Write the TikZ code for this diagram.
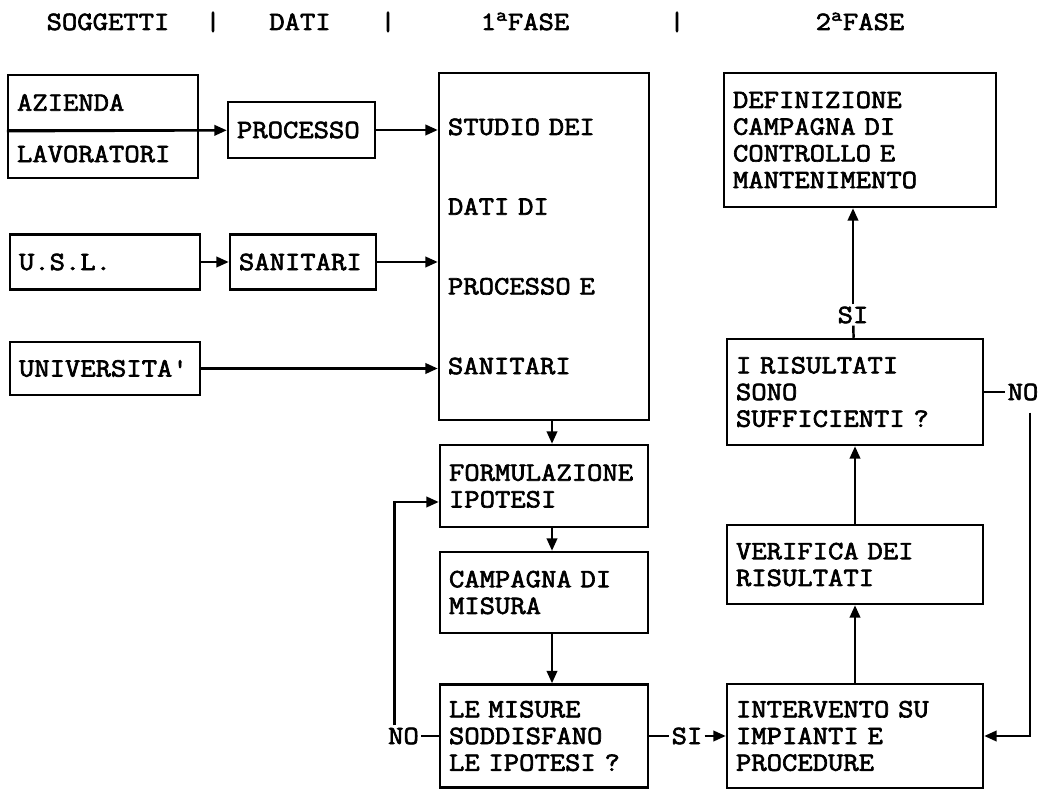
\documentclass[tikz,border=0pt]{standalone}
\usepackage{fontspec}
\setmonofont{Latin Modern Mono}[FakeStretch=1.13,FakeBold=2.5]
\usepackage{tikz}
\usetikzlibrary{arrows.meta}

\begin{document}
\begin{tikzpicture}[
  box/.style={draw,line width=1.4pt,align=left,inner xsep=0.18cm,inner ysep=0pt,font={\ttfamily\fontsize{15}{15.2}\selectfont}},
  head/.style={anchor=base,inner sep=0pt,font={\ttfamily\fontsize{15}{15.2}\selectfont}},
  lbl/.style={inner sep=0.04cm,font={\ttfamily\fontsize{15}{15.2}\selectfont}},
  arrow/.style={-{Triangle[length=0.25cm,width=0.21cm]},line width=1.4pt}
]
\useasboundingbox (0,0) rectangle (20.96,15.82);
% intestazione
\node[head] (hsog) at (2.16,15.22) {SOGGETTI};
\node[head] (hbar1) at (4.26,15.22) {|};
\node[head] (hdati) at (6.0,15.22) {DATI};
\node[head] (hbar2) at (7.76,15.22) {|};
\node[head] (hfase1) at (10.5,15.22) {1\textsuperscript{a}FASE};
\node[head] (hbar3) at (13.54,15.22) {|};
\node[head] (hfase2) at (17.2,15.22) {2\textsuperscript{a}FASE};
% soggetti e dati
\node[box,text width=3.44cm,minimum height=1.1cm] (azienda) at (2.06,13.77) {AZIENDA};
\node[box,text width=3.44cm,minimum height=0.96cm] (lavoratori) at (2.06,12.74) {LAVORATORI};
\node[box,text width=2.58cm,minimum height=1.12cm] (processo) at (6.03,13.22) {PROCESSO};
\node[box,text width=3.44cm,minimum height=1.1cm] (usl) at (2.1,10.58) {U.S.L.};
\node[box,text width=2.56cm,minimum height=1.1cm] (sanitari) at (6.06,10.58) {SANITARI};
\node[box,text width=3.44cm,minimum height=1.06cm] (universita) at (2.1,8.45) {UNIVERSITA'};
% 1a fase
\node[box,text width=3.84cm,minimum height=6.94cm] (studio) at (10.88,10.89) {STUDIO DEI\\[1.06cm]DATI DI\\[1.06cm]PROCESSO E\\[1.06cm]SANITARI};
\node[box,text width=3.8cm,minimum height=1.64cm] (formulazione) at (10.88,6.1) {FORMULAZIONE\\IPOTESI};
\node[box,text width=3.8cm,minimum height=1.62cm] (campagna) at (10.88,3.97) {CAMPAGNA DI\\MISURA};
\node[box,text width=3.8cm,minimum height=2.06cm] (misure) at (10.88,1.1) {LE MISURE\\SODDISFANO\\LE IPOTESI ?};
\node[lbl] (nomis) at (8.07,1.1) {NO};
\node[lbl] (sim) at (13.74,1.1) {SI};
% 2a fase
\node[box,text width=5.08cm,minimum height=2.68cm] (definizione) at (17.2,13.02) {DEFINIZIONE\\CAMPAGNA DI\\CONTROLLO E\\MANTENIMENTO};
\node[box,text width=4.76cm,minimum height=2.12cm] (risultati) at (17.1,7.98) {I RISULTATI\\SONO\\SUFFICIENTI ?};
\node[box,text width=4.76cm,minimum height=1.58cm] (verifica) at (17.1,4.53) {VERIFICA DEI\\RISULTATI};
\node[box,text width=4.76cm,minimum height=2.08cm] (intervento) at (17.1,1.1) {INTERVENTO SU\\IMPIANTI E\\PROCEDURE};
\node[lbl] (sir) at (17.06,9.52) {SI};
\node[lbl] (nor) at (20.46,7.98) {NO};
% collegamenti
\draw[arrow] (azienda.south west) -- (processo);
\draw[arrow] (processo) -- (processo -| studio.west);
\draw[arrow] (usl) -- (sanitari);
\draw[arrow] (sanitari) -- (sanitari -| studio.west);
\draw[arrow] (universita) -- (universita -| studio.west);
\draw[arrow] ([xshift=0.16cm]studio.south) -- ([xshift=0.16cm]formulazione.north);
\draw[arrow] ([xshift=0.16cm]formulazione.south) -- ([xshift=0.16cm]campagna.north);
\draw[arrow] ([xshift=0.16cm]campagna.south) -- ([xshift=0.16cm]misure.north);
\draw[line width=1.4pt] (misure) -- (nomis);
\draw[arrow] ([xshift=-0.18cm]nomis.north) |- ([yshift=-0.32cm]formulazione.west);
\draw[line width=1.4pt] (misure) -- (sim);
\draw[arrow] (sim) -- (intervento);
\draw[arrow] (intervento) -- (verifica);
\draw[arrow] (verifica) -- (risultati);
\draw[line width=1.4pt] (risultati) -- (sir);
\draw[arrow] (sir) -- (sir |- definizione.south);
\draw[line width=1.4pt] (risultati) -- (nor);
\draw[arrow] ([xshift=0.14cm,yshift=-0.2cm]nor.south) |- (intervento);
\end{tikzpicture}
\end{document}
